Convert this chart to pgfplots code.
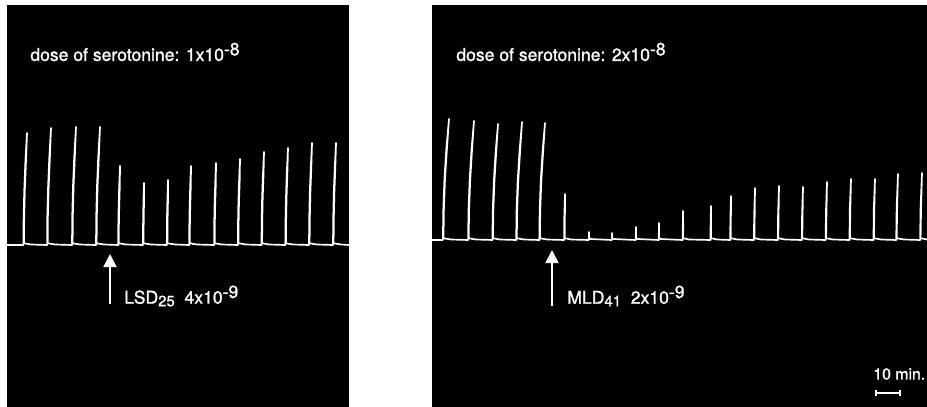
\documentclass[border=0pt]{standalone}
\usepackage{pgfplots}
\pgfplotsset{compat=1.18}
\usetikzlibrary{arrows.meta}
\usepackage{fontspec}
\setmainfont{TeX Gyre Heros}
\newfontfamily\heavy{TeX Gyre Heros}[FakeBold=1.2]
\newcommand{\sups}[1]{\raisebox{3.2pt}{#1}}
\newcommand{\subs}[1]{\raisebox{-1.5pt}{\fontsize{8.5}{9}\selectfont #1}}
\pgfplotsset{panel/.style={scale only axis, y dir=reverse, ymin=5, ymax=407,
  height=8.04cm, axis background/.style={fill=black}, axis line style={draw=none},
  ticks=none, anchor=south west, clip=true},
  trace/.style={white, line width=0.95pt, line join=round, mark=none}}
\tikzset{lbl/.style={white, anchor=west, inner sep=0pt, font=\heavy\fontsize{10}{11}\selectfont}}
\begin{document}
\begin{tikzpicture}
\fill[white] (0,0) rectangle (18.54cm,8.14cm);
\begin{axis}[panel, at={(0.14cm,0cm)}, width=6.84cm, xmin=7, xmax=349]
\addplot[trace] coordinates {
(7,245)
(23.4,245)(23.6,217)(24.3,189)(25.4,161)(27,133)(26.0,161)(24.9,189)(24.2,217)(24.0,243.5)(25.5,243.5)(31,244.5)
(47.1,245)(47.3,215.75)(48.1,186.5)(49.3,157.25)(51,128)(49.9,157.25)(48.7,186.5)(47.9,215.75)(47.7,243.5)(49.2,243.5)(55,244.5)
(72,245)(72.25,215.5)(73,186)(74.25,156.5)(76,127)(74.85,156.5)(73.6,186)(72.85,215.5)(72.6,243.5)(74.1,243.5)(80,244.5)
(96,245)(96.25,215.5)(97,186)(98.25,156.5)(100,127)(98.85,156.5)(97.6,186)(96.85,215.5)(96.6,243.5)(98.1,243.5)(104,244.5)
(118.2,245)(118.3,225.25)(118.65,205.5)(119.2,185.75)(120,166)(119.8,185.75)(119.25,205.5)(118.9,225.25)(118.8,243.5)(120.3,243.5)(126,244.5)
(142.9,245)(143.0,229.5)(143.2,214)(143.5,198.5)(144,183)(144.1,198.5)(143.8,214)(143.6,229.5)(143.5,243.5)(145,243.5)(151,244.5)
(166.8,245)(166.9,228.75)(167.1,212.5)(167.5,196.25)(168,180)(168.1,196.25)(167.7,212.5)(167.5,228.75)(167.4,243.5)(168.9,243.5)(175,244.5)
(189.2,245)(189.3,225.25)(189.65,205.5)(190.2,185.75)(191,166)(190.8,185.75)(190.25,205.5)(189.9,225.25)(189.8,243.5)(191.3,243.5)(197,244.5)
(214.1,245)(214.2,224.5)(214.6,204)(215.2,183.5)(216,163)(215.8,183.5)(215.2,204)(214.8,224.5)(214.7,243.5)(216.2,243.5)(222,244.5)
(237.9,245)(238.0,223.5)(238.4,202)(239.1,180.5)(240,159)(239.7,180.5)(239.0,202)(238.6,223.5)(238.5,243.5)(240,243.5)(246,244.5)
(261.5,245)(261.65,221.75)(262.1,198.5)(262.9,175.25)(264,152)(263.5,175.25)(262.7,198.5)(262.25,221.75)(262.1,243.5)(263.6,243.5)(269,244.5)
(285.3,245)(285.5,220.75)(286.0,196.5)(286.8,172.25)(288,148)(287.4,172.25)(286.6,196.5)(286.1,220.75)(285.9,243.5)(287.4,243.5)(293,244.5)
(309,245)(309.2,219.5)(309.75,194)(310.7,168.5)(312,143)(311.3,168.5)(310.35,194)(309.8,219.5)(309.6,243.5)(311.1,243.5)(317,244.5)
(333,245)(333.2,219.5)(333.75,194)(334.7,168.5)(336,143)(335.3,168.5)(334.35,194)(333.8,219.5)(333.6,243.5)(335.1,243.5)(341,244.5)
(349,245)};
\node[lbl] at (axis cs:30,52) {dose of serotonine: 1x10\sups{-8}};
\draw[white, line width=1pt, -{Triangle[width=0.26cm,length=0.26cm]}] (axis cs:110,304) -- (axis cs:110,254);
\node[lbl] at (axis cs:124,296) {LSD\subs{25}\ \ 4x10\sups{-9}};
\end{axis}
\begin{axis}[panel, at={(8.64cm,0cm)}, width=9.9cm, xmin=432, xmax=927]
\addplot[trace] coordinates {
(432,240)
(442.9,240)(443.3,209.75)(444.4,179.5)(446.3,149.25)(449,119)(446.9,149.25)(445.0,179.5)(443.9,209.75)(443.5,238.5)(445,238.5)(451,239.5)
(468.1,240)(468.5,210.25)(469.6,180.5)(471.4,150.75)(474,121)(472.0,150.75)(470.2,180.5)(469.1,210.25)(468.7,238.5)(470.2,238.5)(476,239.5)
(492.4,240)(492.75,211)(493.8,182)(495.55,153)(498,124)(496.15,153)(494.4,182)(493.35,211)(493.0,238.5)(494.5,238.5)(500,239.5)
(516.2,240)(516.55,210.5)(517.65,181)(519.5,151.5)(522,122)(520.1,151.5)(518.25,181)(517.15,210.5)(516.8,238.5)(518.3,238.5)(524,239.5)
(539.3,240)(539.65,210.75)(540.7,181.5)(542.5,152.25)(545,123)(543.1,152.25)(541.3,181.5)(540.25,210.75)(539.9,238.5)(541.4,238.5)(547,239.5)
(564.1,240)(564.3,217)(565,194)(564.9,217)(564.7,238.5)(566.2,238.5)(571,239.5)
(588.8,240)(589,232)(589.3,239)(590.5,239)
(611.8,240)(612,233)(612.3,239)(613.5,239)
(635.7,240)(636,227)(636.2,239)(637.5,239)
(658.7,240)(659,223)(659.2,239)(660.5,239)
(682.6,240)(682.8,225.5)(683,211)(683.2,225.5)(683.1,238.5)(684.6,238.5)(689,239.5)
(710.5,240)(710.6,223)(711,206)(711.1,223)(711,238.5)(712.5,238.5)(717,239.5)
(730.2,240)(730.4,218)(731,196)(730.9,218)(730.7,238.5)(732.2,238.5)(737,239.5)
(753.9,240)(754.2,214)(755,188)(754.7,214)(754.4,238.5)(755.9,238.5)(761,239.5)
(777.8,240)(778.1,213)(779,186)(778.6,213)(778.3,238.5)(779.8,238.5)(785,239.5)
(801.8,240)(802.1,213.5)(803,187)(802.6,213.5)(802.3,238.5)(803.8,238.5)(809,239.5)
(825.6,240)(826,211)(827,182)(826.5,211)(826.1,238.5)(827.6,238.5)(833,239.5)
(849.45,240)(849.8,209.5)(851,179)(850.3,209.5)(849.95,238.5)(851.45,238.5)(857,239.5)
(873.45,240)(873.8,209.5)(875,179)(874.3,209.5)(873.95,238.5)(875.45,238.5)(881,239.5)
(896.2,240)(896.65,207)(898,174)(897.15,207)(896.7,238.5)(898.2,238.5)(904,239.5)
(920.1,240)(920.6,206.5)(922,173)(921.1,206.5)(920.6,238.5)(922.1,238.5)(927,239.5)
};
\node[lbl] at (axis cs:456,52) {dose of serotonine: 2x10\sups{-8}};
\draw[white, line width=1pt, -{Triangle[width=0.26cm,length=0.26cm]}] (axis cs:552,306) -- (axis cs:552,250);
\node[lbl] at (axis cs:567,296) {MLD\subs{41}\ \ 2x10\sups{-9}};
\node[lbl, font=\heavy\fontsize{9}{10}\selectfont] at (axis cs:873,374) {10 min.};
\draw[white, line width=0.8pt] (axis cs:876,390) -- (axis cs:876,396) (axis cs:876,393) -- (axis cs:900,393) (axis cs:900,390) -- (axis cs:900,396);
\end{axis}
\end{tikzpicture}
\end{document}
